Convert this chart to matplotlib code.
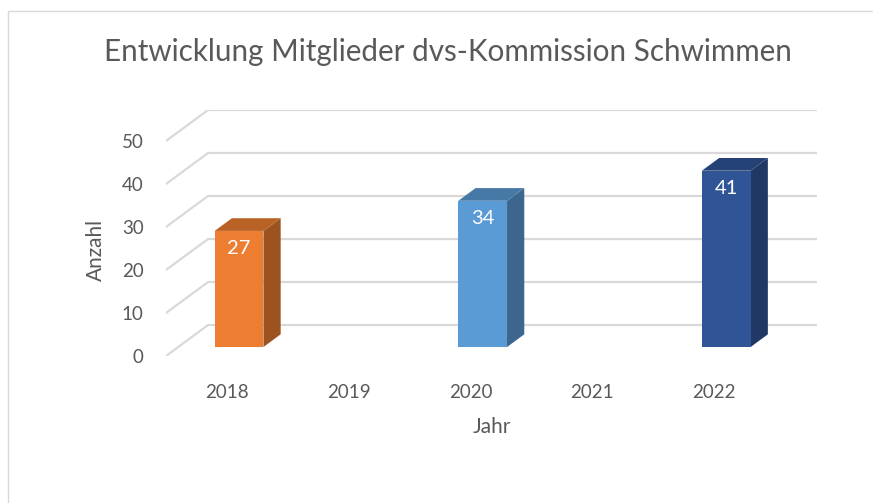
import matplotlib
import numpy as np

matplotlib.use("Agg")
import matplotlib.pyplot as plt  # noqa: E402
from matplotlib.patches import Polygon, Rectangle  # noqa: E402

years = ["2018", "2019", "2020", "2021", "2022"]
members = [27, np.nan, 34, np.nan, 41]
bar_colors = ["#ED7D31", None, "#5B9BD5", None, "#2F5597"]
yticks = [0, 10, 20, 30, 40, 50]

TXT = "#595959"
GRID = "#d9d9d9"
plt.rcParams["font.family"] = ["Lato", "DejaVu Sans"]

# pseudo-3D geometry (data units): full floor depth offset, bar placement in depth
DX, DY = 0.345, 7.2
F0, BD = 0.29, 0.41  # bar front at 29% of depth, bar is 41% deep
W = 0.40


def shade(c, k):
    r, g, b = matplotlib.colors.to_rgb(c)
    return (r * k, g * k, b * k)


fig = plt.figure(figsize=(8.73, 5.03), dpi=100)
fig.patches.append(
    Rectangle((8 / 873, -0.1), 1.2, 1.1 - 11 / 503, transform=fig.transFigure,
              fill=False, ec=GRID, lw=1.0)
)
ax = fig.add_axes([166 / 873, 147 / 503, 651 / 873, 246 / 503])
n = len(years)
ax.set_xlim(-0.5, n - 0.5 + DX)
ax.set_ylim(0, yticks[-1] + DY)
for s in ax.spines.values():
    s.set_visible(False)

# gridlines: short diagonal on the left wall + back wall line
for v in yticks:
    ax.plot([-0.5, -0.5 + DX, n - 0.5 + DX], [v, v + DY, v + DY],
            color=GRID, lw=1.6, solid_capstyle="round", zorder=1)

for i, (val, col) in enumerate(zip(members, bar_colors)):
    if np.isnan(val):
        continue
    x0 = i + F0 * DX - W / 2
    x1 = x0 + W
    y0 = F0 * DY
    y1 = y0 + val
    ddx, ddy = BD * DX, BD * DY
    ax.add_patch(Polygon([(x1, y0), (x1 + ddx, y0 + ddy), (x1 + ddx, y1 + ddy), (x1, y1)],
                         closed=True, fc=shade(col, 0.66), ec="none", zorder=3))
    ax.add_patch(Polygon([(x0, y1), (x1, y1), (x1 + ddx, y1 + ddy), (x0 + ddx, y1 + ddy)],
                         closed=True, fc=shade(col, 0.78), ec="none", zorder=3))
    ax.add_patch(Rectangle((x0, y0), W, val, fc=col, ec="none", zorder=4))
    ax.text((x0 + x1) / 2, y1 - 4.2, f"{val:g}", ha="center", va="center",
            color="white", fontsize=14.5, zorder=5)

ax.set_xticks(range(n))
ax.set_xticklabels(years)
ax.set_yticks(yticks)
ax.tick_params(axis="both", length=0, labelsize=13.5, colors=TXT)
ax.tick_params(axis="y", pad=16)
ax.tick_params(axis="x", pad=20)
ax.set_xlabel("Jahr", fontsize=15, color=TXT, labelpad=12)
ax.set_ylabel("Anzahl", fontsize=15, color=TXT)
ax.yaxis.set_label_coords(-0.092, 0.43)

fig.text(0.5 * (106 + 789) / 873, 1 - 52 / 503, "Entwicklung Mitglieder dvs-Kommission Schwimmen",
         ha="center", va="center", fontsize=21.3, color=TXT)

fig.savefig("out.png", dpi=100)
